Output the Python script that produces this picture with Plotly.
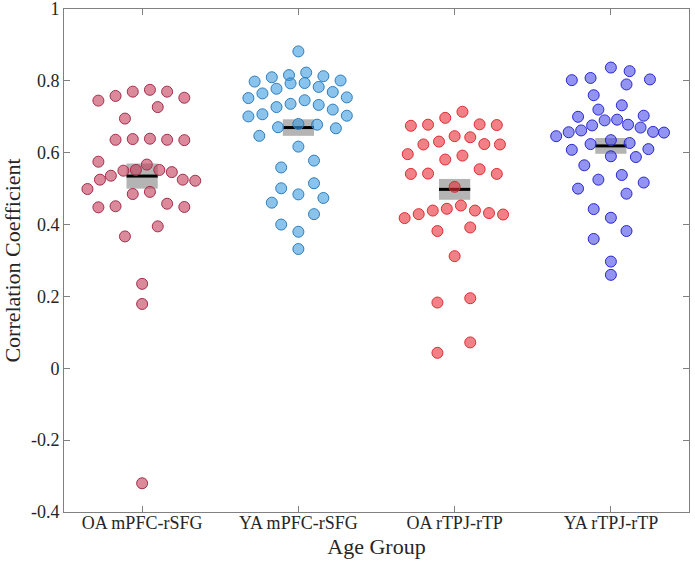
import plotly.graph_objects as go

categories = ["OA mPFC-rSFG", "YA mPFC-rSFG", "OA rTPJ-rTP", "YA rTPJ-rTP"]

oa_mpfc = [0.745, 0.758, 0.770, 0.775, 0.770, 0.753, 0.727, 0.695, 0.636, 0.638,
           0.639, 0.636, 0.635, 0.575, 0.567, 0.550, 0.552, 0.552, 0.546, 0.536,
           0.525, 0.525, 0.522, 0.499, 0.485, 0.491, 0.448, 0.451, 0.458, 0.449,
           0.395, 0.367, 0.235, 0.179, -0.320]
oa_mpfc_jit = [-0.28, -0.17, -0.06, 0.05, 0.16, 0.27, 0.10, -0.11, -0.17, -0.06,
               0.05, 0.16, 0.27, -0.28, 0.03, -0.12, -0.04, 0.11, 0.19, -0.20,
               -0.27, 0.26, 0.34, -0.35, -0.06, 0.05, -0.28, -0.17, 0.16, 0.27,
               0.10, -0.11, 0.0, 0.0, 0.0]

ya_mpfc = [0.882, 0.798, 0.810, 0.816, 0.823, 0.813, 0.801, 0.765, 0.778, 0.793,
           0.794, 0.783, 0.769, 0.752, 0.754, 0.727, 0.736, 0.746, 0.733, 0.720,
           0.701, 0.707, 0.703, 0.671, 0.680, 0.678, 0.668, 0.647, 0.617, 0.578,
           0.559, 0.515, 0.501, 0.484, 0.461, 0.474, 0.429, 0.400, 0.380, 0.332]
ya_mpfc_jit = [0.0, -0.28, -0.17, -0.06, 0.05, 0.16, 0.27, -0.23, -0.14, -0.05,
               0.04, 0.13, 0.22, -0.32, 0.31, -0.14, -0.05, 0.04, 0.13, 0.22,
               -0.32, -0.23, 0.31, -0.13, 0.0, 0.12, 0.24, -0.25, 0.0, 0.10,
               -0.11, 0.10, -0.11, 0.0, -0.17, 0.16, 0.10, -0.11, 0.0, 0.0]

oa_rtpj = [0.714, 0.675, 0.678, 0.697, 0.679, 0.677, 0.623, 0.631, 0.646, 0.643,
           0.624, 0.623, 0.596, 0.581, 0.592, 0.541, 0.542, 0.554, 0.541, 0.505,
           0.418, 0.429, 0.439, 0.444, 0.453, 0.439, 0.432, 0.428, 0.382, 0.392,
           0.312, 0.183, 0.195, 0.072, 0.043]
oa_rtpj_jit = [0.05, -0.28, -0.17, -0.06, 0.16, 0.27, -0.20, -0.10, 0.0, 0.10,
               0.19, 0.29, -0.30, -0.06, 0.05, -0.28, -0.17, 0.16, 0.27, 0.0,
               -0.32, -0.23, -0.14, -0.05, 0.04, 0.13, 0.22, 0.31, -0.11, 0.10,
               0.0, -0.11, 0.10, 0.10, -0.11]

ya_rtpj = [0.837, 0.827, 0.802, 0.808, 0.804, 0.790, 0.760, 0.732, 0.720, 0.700,
           0.703, 0.690, 0.692, 0.676, 0.678, 0.670, 0.662, 0.657, 0.658, 0.656,
           0.646, 0.635, 0.624, 0.627, 0.608, 0.610, 0.590, 0.588, 0.565, 0.525,
           0.538, 0.500, 0.517, 0.486, 0.443, 0.419, 0.382, 0.360, 0.297, 0.260]
ya_rtpj_jit = [0.0, 0.12, -0.25, -0.13, 0.25, 0.10, -0.11, 0.07, -0.08, -0.21,
               0.21, -0.04, 0.04, -0.12, 0.11, 0.19, -0.19, -0.27, 0.27, 0.34,
               -0.35, 0.0, -0.13, 0.12, -0.25, 0.24, 0.0, 0.16, -0.17, -0.08,
               0.07, -0.21, 0.21, 0.10, -0.11, 0.0, 0.10, -0.11, 0.0, 0.0]

group_means = [0.535, 0.670, 0.498, 0.619]
group_sems = [0.035, 0.023, 0.029, 0.022]

values = [oa_mpfc, ya_mpfc, oa_rtpj, ya_rtpj]
jitters = [oa_mpfc_jit, ya_mpfc_jit, oa_rtpj_jit, ya_rtpj_jit]

fills = ["rgba(195,60,90,0.6)", "rgba(60,155,222,0.6)",
         "rgba(232,45,55,0.6)", "rgba(75,75,232,0.6)"]
edges = ["rgb(165,45,75)", "rgb(45,125,190)", "rgb(220,45,50)", "rgb(40,40,205)"]

fig = go.Figure()

pos = [1, 2, 3, 4]
box_w = 0.2

# SEM boxes
fig.add_trace(go.Bar(
    x=pos,
    y=[2 * s for s in group_sems],
    base=[m - s for m, s in zip(group_means, group_sems)],
    width=box_w,
    marker=dict(color="rgb(180,180,180)", line=dict(width=0)),
    showlegend=False, hoverinfo="skip"))

# mean lines
for p, m in zip(pos, group_means):
    fig.add_trace(go.Scatter(
        x=[p - box_w / 2, p + box_w / 2], y=[m, m], mode="lines",
        line=dict(color="black", width=3), showlegend=False, hoverinfo="skip"))

# points
for i, (vals, jit) in enumerate(zip(values, jitters)):
    fig.add_trace(go.Scatter(
        x=[pos[i] + j for j in jit], y=vals, mode="markers",
        marker=dict(size=11, color=fills[i], line=dict(color=edges[i], width=1)),
        showlegend=False, name=categories[i]))

ytick_vals = [-0.4, -0.2, 0, 0.2, 0.4, 0.6, 0.8, 1]
ytick_text = ["-0.4", "-0.2", "0", "0.2", "0.4", "0.6", "0.8", "1"]

serif = "Liberation Serif"
axis_common = dict(
    showline=True, linecolor="rgb(128,128,128)", linewidth=1, mirror="allticks",
    ticks="inside", ticklen=6, tickcolor="rgb(128,128,128)", showgrid=False,
    zeroline=False, automargin=False, ticklabeloverflow="allow",
    tickfont=dict(family=serif, size=18, color="#262626"),
)

fig.update_layout(
    width=695, height=565,
    margin=dict(l=64, r=6, t=9, b=53),
    plot_bgcolor="white", paper_bgcolor="white",
    barmode="overlay",
    xaxis=dict(range=[0.5, 4.5], tickvals=pos, ticktext=categories,
               ticklabelstandoff=-6,
               title=dict(text="Age Group", standoff=7,
                          font=dict(family=serif, size=22, color="#262626")),
               **axis_common),
    yaxis=dict(range=[-0.4, 1], tickvals=ytick_vals, ticktext=ytick_text,
               title=dict(text="Correlation Coefficient", standoff=6,
                          font=dict(family=serif, size=22, color="#262626")),
               **axis_common),
)

fig.write_html("out.html",
               config={"displayModeBar": False},
               post_script="document.body.style.margin='0';document.body.style.overflow='hidden';")
